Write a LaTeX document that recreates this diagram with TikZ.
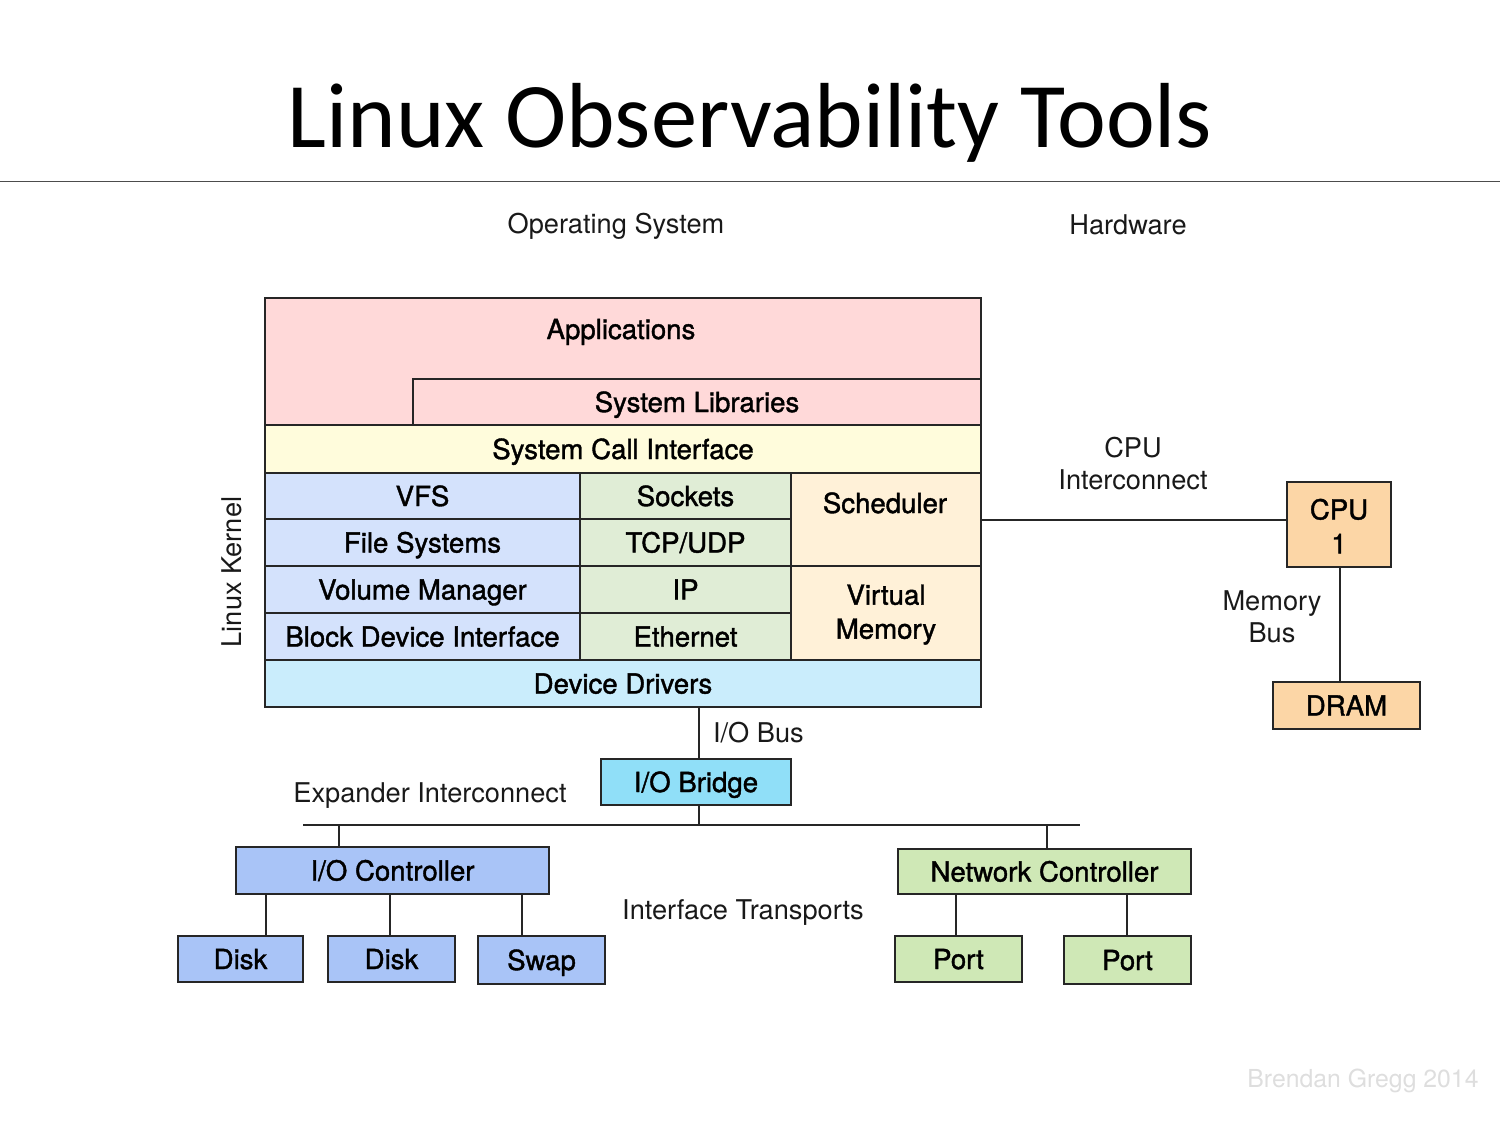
\documentclass[tikz,border=0pt]{standalone}
\usepackage{fontspec}
\setmainfont{TeX Gyre Heros}
\newfontfamily\titlefont{Carlito}
\newfontfamily\medfont[FakeBold=1.4]{TeX Gyre Heros}
\usetikzlibrary{fit}
\definecolor{appc}{HTML}{FFD9D9}
\definecolor{sysc}{HTML}{FFFCDC}
\definecolor{fsc}{HTML}{D4E2FC}
\definecolor{netc}{HTML}{E0EDD6}
\definecolor{schc}{HTML}{FFF1D8}
\definecolor{ddc}{HTML}{CAEDFC}
\definecolor{brc}{HTML}{90DFF8}
\definecolor{ioc}{HTML}{A9C4F7}
\definecolor{ncc}{HTML}{CFE8B6}
\definecolor{cpuc}{HTML}{FCD6A6}
\newcommand\rbox[7]{\node[box,fill=#1,fit={(#3,#4)(#5,#6)}] (#2) {};
  \node[boxtxt,anchor=base,yshift=-5pt] (#2t) at (#2.center) {#7};}
\newcommand\rboxm[7]{\node[box,fill=#1,fit={(#3,#4)(#5,#6)}] (#2) {};
  \node[boxtxt,yshift=-0.8pt] (#2t) at (#2.center) {#7};}
\tikzset{
  box/.style={draw=black!85,line width=1pt,inner sep=0pt},
  boxtxt/.style={align=center,inner sep=0pt,
    font=\medfont\fontsize{13.8}{17}\selectfont},
  lbl/.style={align=center,font=\fontsize{13.6}{16}\selectfont,text=black!90},
  conn/.style={draw=black!85,line width=1pt}
}
\begin{document}
\begin{tikzpicture}[x=0.5pt,y=-0.5pt]
\useasboundingbox (0,0) rectangle (1500,1125);
% title
\node[font=\titlefont\fontsize{46.2}{50}\selectfont] (title) at (750,123) {Linux Observability Tools};
\coordinate (hl) at (0,181);
\coordinate (hr) at (1500,181);
\draw[black!70,line width=0.5pt] (hl) -- (hr);
\node[lbl] (os) at (616,226) {Operating System};
\node[lbl] (hw) at (1128,225) {Hardware};
% stack
\node[box,fill=appc,fit={(265,298)(981,425)}] (apps) {};
\node[boxtxt,anchor=base] (appst) at (621,339) {Applications};
\rbox{appc}{libs}{413}{379}{981}{425}{System Libraries}
\rbox{sysc}{sci}{265}{425}{981}{473}{System Call Interface}
\rbox{fsc}{vfs}{265}{473}{580}{519}{VFS}
\rbox{fsc}{fs}{265}{519}{580}{566}{File Systems}
\rbox{fsc}{vm}{265}{566}{580}{613}{Volume Manager}
\rbox{fsc}{bdi}{265}{613}{580}{660}{Block Device Interface}
\rbox{netc}{sock}{580}{473}{791}{519}{Sockets}
\rbox{netc}{tcp}{580}{519}{791}{566}{TCP/UDP}
\rbox{netc}{ip}{580}{566}{791}{613}{IP}
\rbox{netc}{eth}{580}{613}{791}{660}{Ethernet}
\node[box,fill=schc,fit={(791,473)(981,566)}] (sched) {};
\node[boxtxt,anchor=base] (schedt) at (885,513) {Scheduler};
\rboxm{schc}{virt}{791}{566}{981}{660}{Virtual\\Memory}
\rbox{ddc}{dd}{265}{660}{981}{707}{Device Drivers}
\node[lbl,rotate=90] (lk) at (232,572) {Linux Kernel};
% hardware
\rboxm{cpuc}{cpu}{1287}{482}{1391}{567}{CPU\\1}
\rbox{cpuc}{dram}{1273}{682}{1420}{729}{DRAM}
\draw[conn] (sched.east) -- (sched.east -| cpu.west);
\node[lbl] (cpui) at (1133,464) {CPU\\Interconnect};
\draw[conn] (1340,0 |- cpu.south) -- (1340,0 |- dram.north);
\node[lbl] (mbus) at (1272,617) {Memory\\Bus};
% io
\rbox{brc}{bridge}{601}{759}{791}{805}{I/O Bridge}
\draw[conn] (699,0 |- dd.south) -- (699,0 |- bridge.north);
\node[lbl,anchor=west] (iobus) at (706,733) {I/O Bus};
\coordinate (busL) at (303,825);
\coordinate (busR) at (1080,825);
\draw[conn] (busL) -- (busR);
\draw[conn] (699,0 |- bridge.south) -- (699,0 |- busL);
\node[lbl] (expi) at (430,796) {Expander Interconnect};
\rbox{ioc}{ioctl}{236}{847}{549}{894}{I/O Controller}
\rbox{ioc}{disk1}{178}{936}{303}{982}{Disk}
\rbox{ioc}{disk2}{328}{936}{455}{982}{Disk}
\rbox{ioc}{swap}{478}{936}{605}{984}{Swap}
\draw[conn] (339,0 |- busL) -- (339,0 |- ioctl.north);
\draw[conn] (266,0 |- ioctl.south) -- (266,0 |- disk1.north);
\draw[conn] (390,0 |- ioctl.south) -- (390,0 |- disk2.north);
\draw[conn] (522,0 |- ioctl.south) -- (522,0 |- swap.north);
\node[lbl] (ift) at (743,912) {Interface Transports};
\rbox{ncc}{nc}{898}{849}{1191}{894}{Network Controller}
\rbox{ncc}{port1}{895}{936}{1022}{982}{Port}
\rbox{ncc}{port2}{1064}{936}{1191}{984}{Port}
\draw[conn] (1047,0 |- busL) -- (1047,0 |- nc.north);
\draw[conn] (956,0 |- nc.south) -- (956,0 |- port1.north);
\draw[conn] (1127,0 |- nc.south) -- (1127,0 |- port2.north);
\node[font=\fontsize{12.4}{14}\selectfont,text=black!13] (cred) at (1363,1081) {Brendan Gregg 2014};
\end{tikzpicture}
\end{document}
